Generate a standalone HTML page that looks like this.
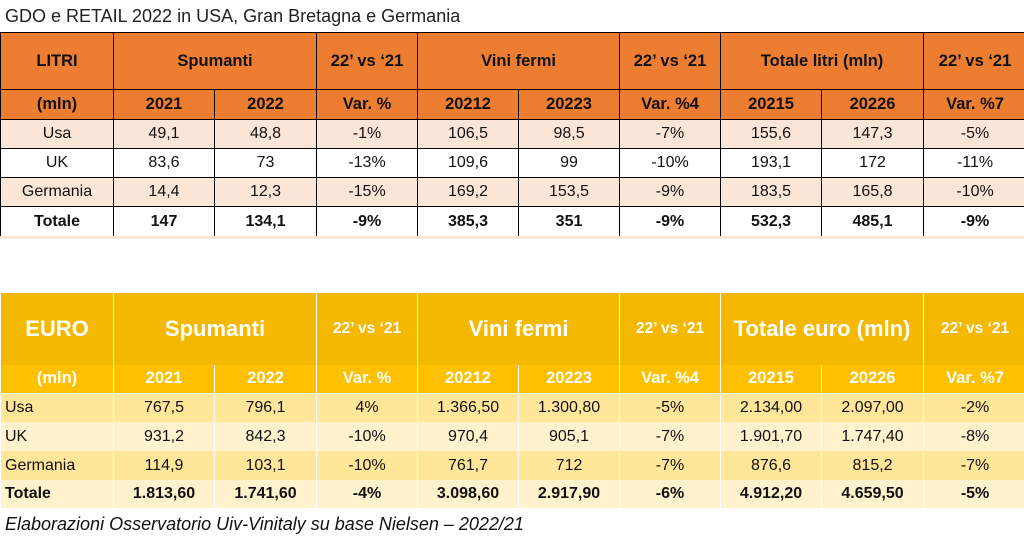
<!DOCTYPE html>
<html><head><meta charset="utf-8"><style>
body{margin:0;width:1024px;height:543px;background:#fff;position:relative;overflow:hidden;font-family:"Liberation Sans",sans-serif;}
.t{position:absolute;left:0;border-collapse:collapse;table-layout:fixed;}
.t td{padding:0;text-align:center;white-space:nowrap;overflow:hidden;font-size:16px;color:#111;}
#top td{border:1px solid #000;}
#top .h td{background:#ED7D31;font-weight:bold;font-size:16.5px;}
#top .p td{background:#FBE5D6;}
#top .b td{font-weight:bold;}
#bot td{border-left:1px solid #fff;border-right:1px solid #fff;}
#bot .h1 td{background:#F5B800;color:#fff;font-weight:bold;font-size:22px;}
#bot .h1 td.s{font-size:15.5px;}
#bot .h2 td{background:#FFC000;color:#fff;font-weight:bold;font-size:16.5px;border-bottom:1px solid #fff;}
#bot .y1 td{background:#FFE699;}
#bot .y2 td{background:#FFF2CC;}
#bot td.l{text-align:left;padding-left:4px;}
#bot .b td{font-weight:bold;}
</style></head><body>
<div style="position:absolute;left:5px;top:6px;font-size:18px;color:#222;">GDO e RETAIL 2022 in USA, Gran Bretagna e Germania</div>
<table id="top" class="t" style="top:32px;width:1026px;">
<colgroup><col style="width:113px"><col style="width:101px"><col style="width:102px"><col style="width:101px"><col style="width:101px"><col style="width:101px"><col style="width:101px"><col style="width:101px"><col style="width:102px"><col style="width:103px"></colgroup>
<tr class="h" style="height:57px"><td>LITRI</td><td colspan="2">Spumanti</td><td>22’ vs ‘21</td><td colspan="2">Vini fermi</td><td>22’ vs ‘21</td><td colspan="2">Totale litri (mln)</td><td>22’ vs ‘21</td></tr>
<tr class="h" style="height:30px"><td>(mln)</td><td>2021</td><td>2022</td><td>Var. %</td><td>20212</td><td>20223</td><td>Var. %4</td><td>20215</td><td>20226</td><td>Var. %7</td></tr>
<tr class="p" style="height:29px"><td>Usa</td><td>49,1</td><td>48,8</td><td>-1%</td><td>106,5</td><td>98,5</td><td>-7%</td><td>155,6</td><td>147,3</td><td>-5%</td></tr>
<tr style="height:29px"><td>UK</td><td>83,6</td><td>73</td><td>-13%</td><td>109,6</td><td>99</td><td>-10%</td><td>193,1</td><td>172</td><td>-11%</td></tr>
<tr class="p" style="height:29px"><td>Germania</td><td>14,4</td><td>12,3</td><td>-15%</td><td>169,2</td><td>153,5</td><td>-9%</td><td>183,5</td><td>165,8</td><td>-10%</td></tr>
<tr class="b" style="height:30px"><td>Totale</td><td>147</td><td>134,1</td><td>-9%</td><td>385,3</td><td>351</td><td>-9%</td><td>532,3</td><td>485,1</td><td>-9%</td></tr>
</table>
<div style="position:absolute;left:0;top:236px;width:1024px;height:3px;background:#FBE5D6;"></div>
<table id="bot" class="t" style="top:293px;width:1026px;">
<colgroup><col style="width:113px"><col style="width:101px"><col style="width:102px"><col style="width:101px"><col style="width:101px"><col style="width:101px"><col style="width:101px"><col style="width:101px"><col style="width:102px"><col style="width:103px"></colgroup>
<tr class="h1" style="height:72px"><td>EURO</td><td colspan="2">Spumanti</td><td class="s">22’ vs ‘21</td><td colspan="2">Vini fermi</td><td class="s">22’ vs ‘21</td><td colspan="2">Totale euro (mln)</td><td class="s">22’ vs ‘21</td></tr>
<tr class="h2" style="height:28px"><td>(mln)</td><td>2021</td><td>2022</td><td>Var. %</td><td>20212</td><td>20223</td><td>Var. %4</td><td>20215</td><td>20226</td><td>Var. %7</td></tr>
<tr class="y1" style="height:29px"><td class="l">Usa</td><td>767,5</td><td>796,1</td><td>4%</td><td>1.366,50</td><td>1.300,80</td><td>-5%</td><td>2.134,00</td><td>2.097,00</td><td>-2%</td></tr>
<tr class="y2" style="height:29px"><td class="l">UK</td><td>931,2</td><td>842,3</td><td>-10%</td><td>970,4</td><td>905,1</td><td>-7%</td><td>1.901,70</td><td>1.747,40</td><td>-8%</td></tr>
<tr class="y1" style="height:29px"><td class="l">Germania</td><td>114,9</td><td>103,1</td><td>-10%</td><td>761,7</td><td>712</td><td>-7%</td><td>876,6</td><td>815,2</td><td>-7%</td></tr>
<tr class="y2 b" style="height:28px"><td class="l">Totale</td><td>1.813,60</td><td>1.741,60</td><td>-4%</td><td>3.098,60</td><td>2.917,90</td><td>-6%</td><td>4.912,20</td><td>4.659,50</td><td>-5%</td></tr>
</table>
<div style="position:absolute;left:5px;top:514px;font-size:18px;font-style:italic;color:#111;">Elaborazioni Osservatorio Uiv-Vinitaly su base Nielsen – 2022/21</div>
</body></html>
